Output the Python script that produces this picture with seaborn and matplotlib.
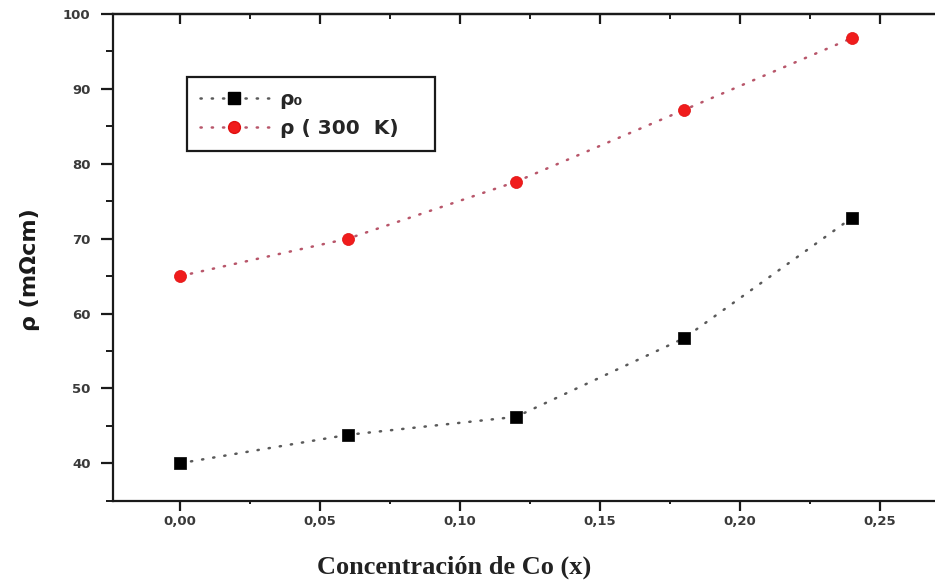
import matplotlib.pyplot as plt
import seaborn as sns
from matplotlib.lines import Line2D
from matplotlib.ticker import MultipleLocator, FixedLocator

# values
co_x = [0.00, 0.06, 0.12, 0.18, 0.24]
rho_0 = [40.0, 43.8, 46.2, 56.7, 72.8]
rho_300k = [65.0, 70.0, 77.6, 87.2, 96.8]
x_ticks = [0.00, 0.05, 0.10, 0.15, 0.20, 0.25]
x_tick_labels = ['0,00', '0,05', '0,10', '0,15', '0,20', '0,25']
y_ticks = [40, 50, 60, 70, 80, 90, 100]
legend_labels = ['ρ₀', 'ρ ( 300  K)']

sns.set_style('ticks')
plt.rcParams['font.family'] = ['DejaVu Sans']

fig = plt.figure(figsize=(9.35, 5.86), dpi=100)
ax = fig.add_axes([0.1205, 0.1456, 0.8795, 0.8304])

dots = (0, (0.5, 4.0))
line_gray = '#5a5a5a'
line_red = '#b8566a'
frame_col = '#1a1a1a'

sns.lineplot(x=co_x, y=rho_0, ax=ax, color=line_gray, linestyle=dots,
             linewidth=1.8, dash_capstyle='round')
sns.lineplot(x=co_x, y=rho_300k, ax=ax, color=line_red, linestyle=dots,
             linewidth=1.8, dash_capstyle='round')
sns.scatterplot(x=co_x, y=rho_0, ax=ax, marker='s', s=85, color='black',
                edgecolor='black', linewidth=0.5, zorder=3)
sns.scatterplot(x=co_x, y=rho_300k, ax=ax, marker='o', s=75, color='#f01c1c',
                edgecolor='#e01010', linewidth=0.5, zorder=3)

ax.set_xlim(-0.024, 0.2696)
ax.set_ylim(35, 100)

ax.xaxis.set_major_locator(FixedLocator(x_ticks))
ax.set_xticklabels(x_tick_labels)
ax.xaxis.set_minor_locator(MultipleLocator(0.025))
ax.yaxis.set_major_locator(FixedLocator(y_ticks))
ax.set_yticklabels([str(v) for v in y_ticks])
ax.yaxis.set_minor_locator(MultipleLocator(5))

for lab in ax.get_xticklabels() + ax.get_yticklabels():
    lab.set_fontsize(9.5)
    lab.set_fontweight('bold')
    lab.set_color('#3a3a3a')

ax.tick_params(axis='y', which='major', direction='out', length=9, width=1.6, pad=7,
               colors=frame_col, labelcolor='#3a3a3a')
ax.tick_params(axis='y', which='minor', direction='out', length=5, width=1.4, colors=frame_col)
ax.tick_params(axis='x', which='major', direction='out', length=7, width=1.6, pad=3,
               colors=frame_col, labelcolor='#3a3a3a')
ax.tick_params(axis='x', which='minor', direction='out', length=2.5, width=1.4, colors=frame_col)

for side in ['left', 'bottom', 'top']:
    ax.spines[side].set_linewidth(1.6)
    ax.spines[side].set_color(frame_col)
ax.spines['right'].set_visible(False)

# ticks hanging inward from the top frame
top = ax.secondary_xaxis('top')
top.xaxis.set_major_locator(FixedLocator(x_ticks))
top.xaxis.set_minor_locator(MultipleLocator(0.025))
top.tick_params(axis='x', which='major', direction='in', length=7, width=1.6, labeltop=False,
                colors=frame_col)
top.tick_params(axis='x', which='minor', direction='in', length=3.5, width=1.4, colors=frame_col)
top.spines['top'].set_linewidth(1.6)
top.spines['top'].set_color(frame_col)

ax.set_ylabel('ρ (mΩcm)', fontsize=16, fontweight='bold', color=frame_col)
ax.yaxis.set_label_coords(-0.1, 0.475)
ax.yaxis.label.set_va('center')

ax.set_xlabel('Concentración de Co (x)', fontsize=19, fontweight='bold',
              family=['Liberation Serif', 'DejaVu Serif'], color='#222222')
ax.xaxis.set_label_coords(0.415, -0.136)
ax.xaxis.label.set_va('center')

handles = [
    Line2D([0], [0], color=line_gray, linestyle=dots, linewidth=1.8, dash_capstyle='round',
           marker='s', markersize=9, markerfacecolor='black', markeredgecolor='black'),
    Line2D([0], [0], color=line_red, linestyle=dots, linewidth=1.8, dash_capstyle='round',
           marker='o', markersize=8.5, markerfacecolor='#f01c1c', markeredgecolor='#e01010'),
]
leg = ax.legend(handles, legend_labels, loc='upper left', mode='expand',
                bbox_to_anchor=(0.0904, 0.8706, 0.3016, 0.0),
                frameon=True, fancybox=False, edgecolor=frame_col, framealpha=1,
                handlelength=3.4, handletextpad=0.55, borderpad=0.65, borderaxespad=0,
                labelspacing=0.5, prop={'size': 14.5, 'weight': 'bold'})
leg.get_frame().set_linewidth(1.6)

fig.savefig('out.png', dpi=100)
